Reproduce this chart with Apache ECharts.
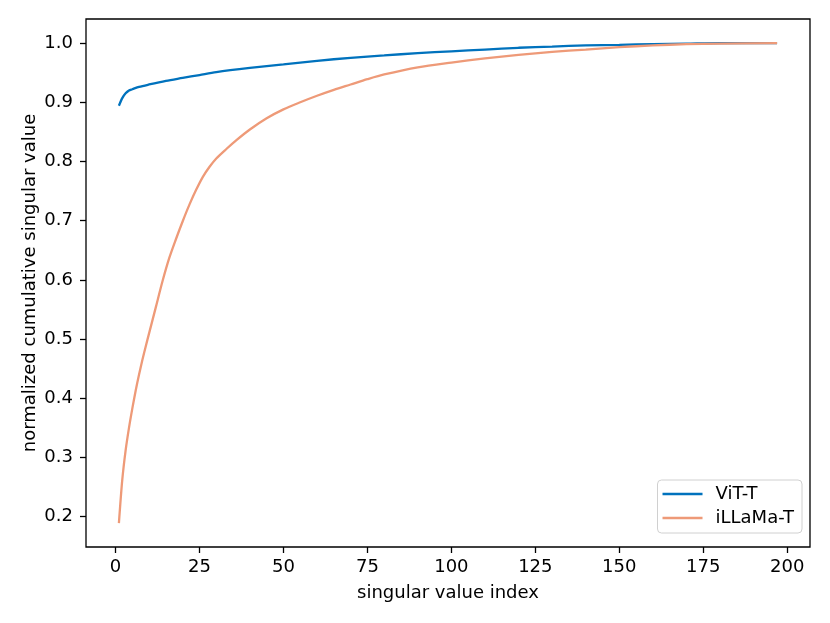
<!DOCTYPE html>
<html>
<head>
<meta charset="UTF-8">
<title>singular value</title>
<script type="text/javascript" src="https://cdn.jsdelivr.net/npm/echarts@6.0.0/dist/echarts.min.js"></script>
<style>
	body { margin: 0; background: #fff; }
	#div { width: 830px; height: 623px; }
</style>
</head>
<body>
	<div id="div"></div>

	<script type="text/javascript">
		// values
		var vitX = [ 1, 2, 3, 4, 5, 7, 10, 15, 20, 25, 30, 40, 50, 60, 70, 80, 90,
				100, 110, 120, 130, 140, 150, 160, 170, 180, 197 ];
		var vitY = [ 0.894, 0.907, 0.915, 0.920, 0.922, 0.926, 0.930, 0.936, 0.941,
				0.946, 0.951, 0.958, 0.964, 0.970, 0.975, 0.979, 0.983, 0.986, 0.989,
				0.992, 0.994, 0.996, 0.997, 0.998, 0.999, 1.000, 1.000 ];
		var llamaX = [ 1, 2, 3, 4, 5, 6, 7, 8, 9, 10, 12, 14, 16, 18, 20, 22, 24, 26,
				28, 30, 33, 36, 40, 45, 50, 55, 60, 65, 70, 75, 80, 90, 100, 110, 120,
				130, 140, 150, 160, 170, 180, 197 ];
		var llamaY = [ 0.189, 0.262, 0.312, 0.350, 0.383, 0.413, 0.440, 0.465, 0.488,
				0.510, 0.554, 0.598, 0.637, 0.669, 0.699, 0.727, 0.752, 0.774, 0.791,
				0.805, 0.821, 0.836, 0.854, 0.873, 0.888, 0.900, 0.911, 0.921, 0.930,
				0.939, 0.947, 0.959, 0.967, 0.974, 0.980, 0.985, 0.989, 0.993, 0.996,
				0.998, 0.999, 1.000 ];
		var xTicks = [ 0, 25, 50, 75, 100, 125, 150, 175, 200 ];
		var yTicks = [ 0.2, 0.3, 0.4, 0.5, 0.6, 0.7, 0.8, 0.9, 1.0 ];

		function pairs(xs, ys) {
			var out = [];
			for (var i = 0; i < xs.length; i++) {
				out.push([ xs[i], ys[i] ]);
			}
			return out;
		}

		var font = 'DejaVu Sans';
		var mychart = echarts.init(document.getElementById('div'));
		var option = {
			animation : false,
			textStyle : { fontFamily : font, color : '#000' },
			grid : {
				left : 86, right : 20, top : 19, bottom : 76,
				show : true, borderColor : '#000', borderWidth : 1.3,
				containLabel : false
			},
			legend : {
				orient : 'vertical',
				right : 28, top : 480,
				data : [ 'ViT-T', 'iLLaMa-T' ],
				icon : 'rect',
				itemWidth : 40, itemHeight : 2.5,
				itemGap : 6,
				padding : [ 5, 8, 6, 5 ],
				borderColor : '#d0d0d0', borderWidth : 1, borderRadius : 4,
				backgroundColor : 'rgba(255,255,255,0.8)',
				textStyle : {
					fontFamily : font, fontSize : 18, color : '#000',
					padding : [ 0, 0, 0, 8 ]
				}
			},
			xAxis : {
				type : 'value',
				min : -8.8, max : 206.8,
				name : 'singular value index',
				nameLocation : 'middle', nameGap : 37,
				nameMoveOverlap : false,
				nameTextStyle : { fontFamily : font, fontSize : 18, color : '#000' },
				axisLine : { show : false, onZero : false },
				splitLine : { show : false },
				axisTick : {
					show : true, length : 6, customValues : xTicks,
					lineStyle : { color : '#000', width : 1.3 }
				},
				axisLabel : {
					customValues : xTicks, margin : 11,
					fontFamily : font, fontSize : 18, color : '#000'
				}
			},
			yAxis : {
				type : 'value',
				min : 0.1488, max : 1.0406,
				name : 'normalized cumulative singular value',
				nameLocation : 'middle', nameGap : 47,
				nameMoveOverlap : false,
				nameTextStyle : { fontFamily : font, fontSize : 18, color : '#000' },
				axisLine : { show : false, onZero : false },
				splitLine : { show : false },
				axisTick : {
					show : true, length : 6, customValues : yTicks,
					lineStyle : { color : '#000', width : 1.3 }
				},
				axisLabel : {
					customValues : yTicks, margin : 13,
					fontFamily : font, fontSize : 18, color : '#000',
					formatter : function(v) { return v.toFixed(1); }
				}
			},
			series : [ {
				name : 'ViT-T',
				type : 'line',
				data : pairs(vitX, vitY),
				smooth : 0.3,
				symbol : 'none',
				lineStyle : { color : '#0072bd', width : 2.3 },
				itemStyle : { color : '#0072bd' }
			}, {
				name : 'iLLaMa-T',
				type : 'line',
				data : pairs(llamaX, llamaY),
				smooth : 0.3,
				symbol : 'none',
				lineStyle : { color : '#ee9a78', width : 2.3 },
				itemStyle : { color : '#ee9a78' }
			} ]
		};
		mychart.setOption(option);
	</script>
</body>
</html>
